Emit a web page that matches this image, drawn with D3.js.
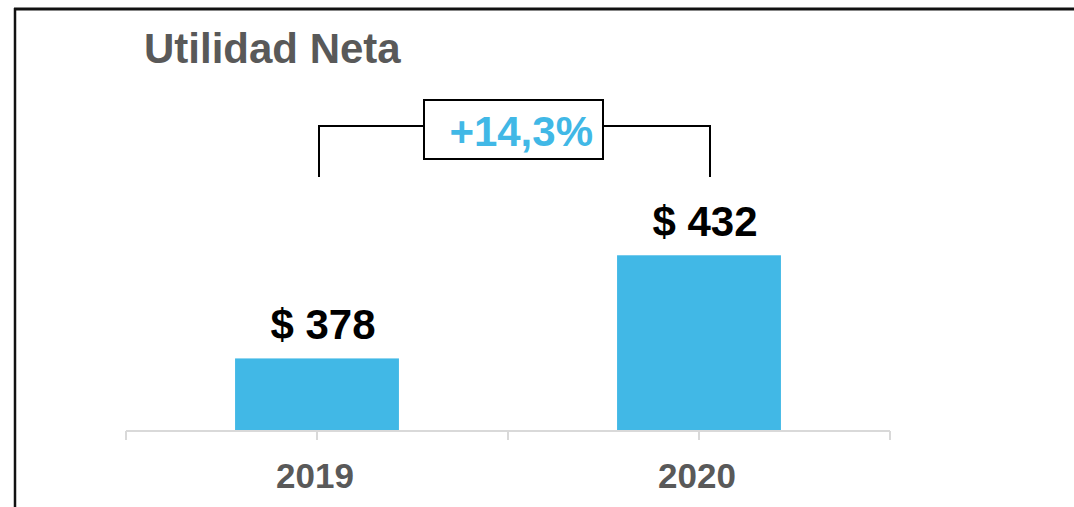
<!DOCTYPE html>
<html>
<head>
<meta charset="utf-8">
<script src="https://cdn.jsdelivr.net/npm/d3@7"></script>
<style>
  body { margin: 0; background: #fff; }
  svg { display: block; font-family: "Liberation Sans", Arial, sans-serif; }
</style>
</head>
<body>
<svg id="chart"></svg>
<script>
var years = ["2019", "2020"];
var values = [378, 432];
var yDomain = [340, 440];

var dimensions = {
    width: 1074,
    height: 507,
    axisLeft: 126,
    axisRight: 890,
    axisY: 431,
    plotTop: 240
};

var blue = "#41b8e6";
var gray = "#595959";

var svg = d3.select("#chart")
    .attr("width", dimensions.width)
    .attr("height", dimensions.height);

// frame lines (top and left only)
svg.append("line")
    .attr("x1", 14).attr("x2", dimensions.width)
    .attr("y1", 9).attr("y2", 9)
    .attr("stroke", "#111").attr("stroke-width", 3);
svg.append("line")
    .attr("x1", 15).attr("x2", 15)
    .attr("y1", 8).attr("y2", dimensions.height)
    .attr("stroke", "#111").attr("stroke-width", 2.5);

// title
svg.append("text")
    .attr("x", 144).attr("y", 63)
    .attr("font-size", 42).attr("font-weight", "bold")
    .attr("fill", gray)
    .text("Utilidad Neta");

var xScale = d3.scaleBand()
    .domain(years)
    .range([dimensions.axisLeft, dimensions.axisRight])
    .paddingInner(0.571)
    .paddingOuter(0.2855);

var yScale = d3.scaleLinear()
    .domain(yDomain)
    .range([dimensions.axisY, dimensions.plotTop]);

var step = xScale.step();
var center = d => xScale(d) + xScale.bandwidth() / 2;

// bars
svg.selectAll(".bar")
    .data(years)
    .enter()
    .append("rect")
    .attr("class", "bar")
    .attr("x", d => xScale(d))
    .attr("y", (d, i) => yScale(values[i]))
    .attr("width", xScale.bandwidth())
    .attr("height", (d, i) => dimensions.axisY - yScale(values[i]))
    .attr("fill", blue);

// value labels
svg.selectAll(".value")
    .data(years)
    .enter()
    .append("text")
    .attr("class", "value")
    .attr("x", d => center(d) + 6)
    .attr("y", (d, i) => yScale(values[i]) - 19)
    .attr("text-anchor", "middle")
    .attr("font-size", 42).attr("font-weight", "bold")
    .attr("fill", "#000")
    .text((d, i) => "$ " + values[i]);

// axis
var axis = svg.append("g")
    .attr("transform", `translate(0, ${dimensions.axisY})`);
axis.append("line")
    .attr("x1", dimensions.axisLeft).attr("x2", dimensions.axisRight)
    .attr("stroke", "#d9d9d9").attr("stroke-width", 2);

var tickPos = [dimensions.axisLeft];
years.forEach(d => {
    tickPos.push(center(d));
    tickPos.push(xScale(d) - xScale.paddingOuter() * step + step);
});
axis.selectAll(".tick")
    .data(tickPos)
    .enter()
    .append("line")
    .attr("x1", d => d).attr("x2", d => d)
    .attr("y1", 0).attr("y2", 9)
    .attr("stroke", "#d9d9d9").attr("stroke-width", 2);

axis.selectAll(".year")
    .data(years)
    .enter()
    .append("text")
    .attr("x", d => center(d) - 2)
    .attr("y", 57)
    .attr("text-anchor", "middle")
    .attr("font-size", 35).attr("font-weight", "bold")
    .attr("fill", gray)
    .text(d => d);

// growth bracket
var growth = (values[1] / values[0] - 1) * 100;
var growthText = "+" + growth.toFixed(1).replace(".", ",") + "%";

var bx1 = center(years[0]) + 2;
var bx2 = center(years[1]) + 11;
var bTop = 126, bBottom = 177;
var boxX = 424, boxW = 179, boxY = 100, boxH = 59;

svg.append("path")
    .attr("d", `M${bx1},${bBottom}V${bTop}H${bx2}V${bBottom}`)
    .attr("fill", "none")
    .attr("stroke", "#000").attr("stroke-width", 2);

svg.append("rect")
    .attr("x", boxX).attr("y", boxY)
    .attr("width", boxW).attr("height", boxH)
    .attr("fill", "#fff")
    .attr("stroke", "#000").attr("stroke-width", 2);

svg.append("text")
    .attr("x", boxX + boxW - 10)
    .attr("y", 146)
    .attr("text-anchor", "end")
    .attr("font-size", 42).attr("font-weight", "bold")
    .attr("fill", blue)
    .text(growthText);
</script>
</body>
</html>
